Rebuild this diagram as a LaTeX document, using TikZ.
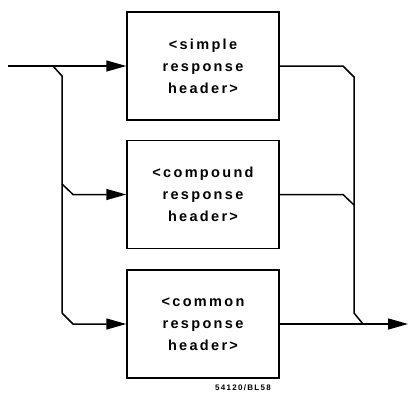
\documentclass[tikz,border=0pt]{standalone}
\usepackage{fontspec}
\newfontfamily\boxfont[LetterSpace=16]{Liberation Sans}
\usetikzlibrary{arrows.meta}

\tikzset{
  headerbox/.style={draw, line width=1.5pt, minimum width=152pt, minimum height=108pt,
    align=center, font=\boxfont\bfseries\fontsize{14.5}{22}\selectfont},
  flow/.style={line width=1.5pt},
  flowarrow/.style={flow, -{Triangle[length=20pt,width=11pt]}}
}

\begin{document}
\begin{tikzpicture}[x=1pt,y=-1pt]
\useasboundingbox (0,0) rectangle (409,396);
\node[headerbox] (simple) at (203,66) {<simple\\response\\header>};
\node[headerbox] (compound) at (203,194.5) {<compound\\response\\header>};
\node[headerbox] (common) at (203,324) {<common\\response\\header>};
\node[font=\boxfont\bfseries\fontsize{8}{9}\selectfont] (tag) at (243,388) {54120/BL58};

\coordinate (in) at (8,66);
\coordinate (split) at (53,66);
\coordinate (down) at (62,76);
\coordinate (fork) at (62,184);
\coordinate (low) at (62,313);
\coordinate (join) at (354,313);
\coordinate (out) at (408,323);

% entry branches
\draw[flowarrow] (in) -- (simple.west);
\draw[flow] (split) -- (down) -- (fork) -- (low);
\draw[flowarrow] (fork) -- (73,194.5) -- (compound.west);
\draw[flowarrow] (low) -- (73,324) -- (common.west);

% exit branches
\draw[flow] (simple.east) -- (343,66) -- (354,77) -- (join) -- (363,324);
\draw[flow] (compound.east) -- (343,194.5) -- (354,205);
\draw[flowarrow] (common.east) -- (out |- common.east);
\end{tikzpicture}
\end{document}
